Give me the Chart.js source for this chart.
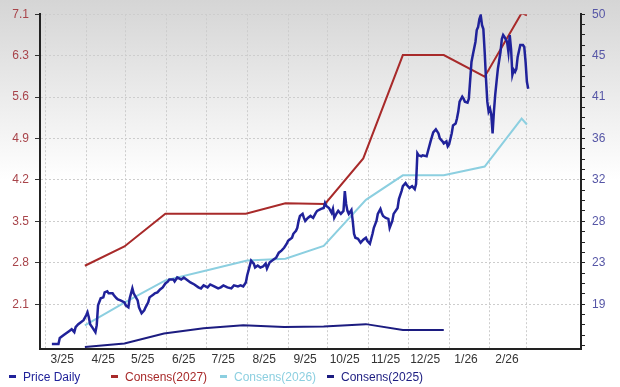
<!DOCTYPE html>
<html>
<head>
<meta charset="utf-8">
<script src="https://cdn.jsdelivr.net/npm/chart.js@4.4.1/dist/chart.umd.min.js"></script>
<style>
  html, body { margin: 0; padding: 0; background: #fff; }
  #wrap { position: relative; width: 620px; height: 387px; }
  #legenda { position: absolute; left: 0; top: 370px; width: 620px; height: 16px;
             font: 12px "Liberation Sans", Arial, sans-serif; }
  #legenda span { position: absolute; top: 0; white-space: nowrap; }
  #legenda i { display: inline-block; width: 7px; height: 3px; vertical-align: middle; margin: 0 7px 2px 0; }
</style>
</head>
<body>
<div id="wrap">
  <canvas id="grafico" width="620" height="387"></canvas>
  <div id="legenda"></div>
</div>
<script>
// eixo x: dias contados a partir de 2025-03-01
const mesesDias = [0, 31, 61, 92, 122, 153, 184, 214, 245, 275, 306, 337, 365];
const mesesLabels = ['3/25', '4/25', '5/25', '6/25', '7/25', '8/25', '9/25', '10/25', '11/25', '12/25', '1/26', '2/26', ''];

// eixo esquerdo (consenso EPS) e eixo direito (preco)
const ticksEsq = [2.13, 2.84, 3.55, 4.26, 4.97, 5.68, 6.39, 7.1];
const ticksEsqLabels = ['2.1', '2.8', '3.5', '4.2', '4.9', '5.6', '6.3', '7.1'];
const ticksDir = [18.99, 23.42, 27.85, 32.28, 36.71, 41.14, 45.57, 50];
const ticksDirLabels = ['19', '23', '28', '32', '36', '41', '45', '50'];

// Price Daily
const precoDias = [
  5, 10, 11, 14, 18, 20, 22, 23, 25, 27, 29, 31, 32, 33, 34, 36, 38, 39, 40, 42,
  44, 45, 47, 48, 51, 52, 54, 55, 57, 60, 61, 63, 64, 66, 67, 70, 71, 73, 75, 76,
  78, 79, 82, 83, 85, 87, 89, 91, 93, 94, 97, 98, 100, 103, 105, 108, 110, 113, 116, 118,
  120, 123, 125, 128, 131, 133, 135, 138, 141, 143, 146, 148, 150, 152, 153, 155, 156, 158, 159, 161,
  163, 165, 167, 168, 170, 172, 173, 175, 177, 179, 181, 183, 184, 187, 188, 190, 191, 192, 193, 195,
  196, 197, 199, 201, 203, 205, 206, 209, 211, 212, 213, 215, 217, 218, 219, 221, 222, 224, 226, 227,
  228, 229, 230, 232, 233, 234, 235, 237, 239, 241, 243, 244, 246, 248, 249, 251, 252, 254, 255, 256,
  258, 260, 261, 263, 264, 267, 268, 270, 271, 273, 274, 276, 278, 280, 281, 282, 283, 285, 286, 289,
  290, 292, 294, 296, 298, 299, 301, 302, 304, 305, 306, 308, 309, 311, 312, 313, 314, 316, 317, 318,
  320, 321, 323, 324, 326, 327, 328, 329, 330, 331, 332, 333, 334, 335, 336, 337, 338, 339, 340, 341,
  342, 343, 345, 346, 347, 348, 350, 351, 352, 353, 354, 355, 356, 357, 358, 360, 362, 363, 364, 365,
  366
];
const precoValores = [
  14.73, 14.73, 15.37, 15.69, 16.11, 16.32, 16.0, 16.54, 16.85, 17.07, 17.28, 17.81, 18.13, 17.6, 16.85, 16.43, 16.0, 16.75, 18.87, 19.62,
  19.72, 20.25, 20.36, 20.15, 20.15, 19.94, 19.62, 19.51, 19.4, 19.19, 18.87, 18.66, 19.62, 20.68, 20.15, 19.4, 18.66, 18.02, 18.34, 18.66,
  19.19, 19.72, 20.04, 20.15, 20.25, 20.57, 20.79, 21.21, 21.42, 21.64, 21.64, 21.42, 21.85, 21.64, 21.85, 21.53, 21.32, 21.1, 20.79, 20.68,
  21.0, 20.79, 21.1, 20.89, 20.68, 20.79, 21.0, 20.79, 20.68, 21.0, 20.89, 21.0, 20.89, 21.32, 22.06, 23.12, 23.65, 23.33, 22.91, 23.12,
  22.91, 23.02, 23.33, 22.8, 23.44, 23.65, 23.76, 23.97, 24.5, 24.72, 25.03, 25.46, 25.78, 26.1, 26.52, 26.84, 27.16, 27.9, 28.43, 28.65,
  28.22, 27.9, 28.22, 28.43, 28.22, 28.75, 28.97, 29.18, 29.28, 29.82, 29.5, 29.28, 28.75, 29.18, 28.22, 28.75, 28.97, 28.65, 28.97, 31.09,
  29.71, 28.97, 28.65, 29.07, 27.9, 26.52, 26.1, 25.99, 25.57, 25.88, 26.1, 25.78, 25.46, 26.52, 27.16, 27.9, 28.65, 29.18, 28.75, 28.43,
  28.22, 28.12, 27.16, 27.9, 28.65, 29.28, 30.24, 31.09, 31.62, 31.94, 31.73, 31.41, 31.62, 31.3, 31.83, 35.13, 34.91, 34.81, 34.91, 34.81,
  35.34, 36.4, 37.36, 37.68, 37.25, 36.72, 36.4, 36.19, 36.4, 35.87, 36.08, 37.25, 38.1, 38.31, 38.85, 39.59, 40.65, 41.18, 40.97, 40.65,
  40.55, 40.97, 44.9, 45.64, 47.03, 48.3, 48.62, 49.47, 49.89, 48.83, 48.41, 45.96, 43.09, 40.65, 39.59, 39.91, 39.27, 37.25, 39.59, 41.39,
  42.78, 44.16, 45.96, 47.34, 47.77, 47.56, 47.03, 45.96, 47.77, 46.28, 43.52, 44.05, 43.84, 44.16, 45.43, 46.71, 46.71, 46.49, 44.9, 42.78,
  42.03
];

// Consens(2027)
const cons27Dias = [30, 60, 91, 152, 182, 212, 241, 271, 302, 333, 361, 365];
const cons27Valores = [2.79, 3.12, 3.68, 3.68, 3.86, 3.85, 4.63, 6.40, 6.40, 6.03, 7.12, 7.08];
// Consens(2026)
const cons26Dias = [30, 60, 91, 122, 153, 182, 211, 243, 271, 302, 333, 361, 365];
const cons26Valores = [1.77, 2.16, 2.54, 2.71, 2.88, 2.91, 3.13, 3.92, 4.34, 4.34, 4.49, 5.31, 5.21];
// Consens(2025)
const cons25Dias = [30, 60, 90, 120, 150, 181, 211, 243, 271, 302];
const cons25Valores = [1.40, 1.46, 1.63, 1.72, 1.77, 1.74, 1.75, 1.79, 1.69, 1.69];

const pontos = (dias, valores) => dias.map((d, i) => ({ x: d, y: valores[i] }));

const series = [
  { label: 'Price Daily', cor: '#20229a', dados: pontos(precoDias, precoValores), eixo: 'yDir', largura: 2.5 },
  { label: 'Consens(2027)', cor: '#a82a2a', dados: pontos(cons27Dias, cons27Valores), eixo: 'yEsq', largura: 2 },
  { label: 'Consens(2026)', cor: '#8ccfe0', dados: pontos(cons26Dias, cons26Valores), eixo: 'yEsq', largura: 2 },
  { label: 'Consens(2025)', cor: '#1c1c80', dados: pontos(cons25Dias, cons25Valores), eixo: 'yEsq', largura: 2 }
];

const fundo = {
  id: 'fundo',
  beforeDraw(chart) {
    const { ctx, width, height } = chart;
    const g = ctx.createLinearGradient(0, 0, 0, 180);
    g.addColorStop(0, '#d5d5d5');
    g.addColorStop(1, '#ffffff');
    ctx.save();
    ctx.fillStyle = g;
    ctx.fillRect(0, 0, width, height);
    ctx.restore();
  }
};

const fonte = { family: '"Liberation Sans", Arial, sans-serif', size: 12 };
const grade = '#cdcdcd';

new Chart(document.getElementById('grafico').getContext('2d'), {
  type: 'line',
  data: {
    datasets: series.map(s => ({
      label: s.label,
      data: s.dados,
      yAxisID: s.eixo,
      borderColor: s.cor,
      backgroundColor: s.cor,
      borderWidth: s.largura,
      pointRadius: 0,
      tension: 0,
      fill: false
    }))
  },
  options: {
    responsive: false,
    animation: false,
    layout: { padding: { top: 12, bottom: 18, left: 0, right: 0 } },
    plugins: { legend: { display: false }, tooltip: { enabled: false } },
    scales: {
      x: {
        type: 'linear',
        min: -4,
        max: 406,
        afterBuildTicks: axis => { axis.ticks = mesesDias.map(v => ({ value: v })); },
        afterFit: axis => { axis.height = 20; },
        ticks: {
          autoSkip: false, maxRotation: 0, padding: 3, labelOffset: 17,
          color: '#333', font: fonte,
          callback: (v, i) => mesesLabels[i]
        },
        grid: { color: grade, drawTicks: false },
        border: { color: '#222', width: 2, dash: [2, 2] }
      },
      yEsq: {
        type: 'linear',
        position: 'left',
        min: 1.364,
        max: 7.1,
        afterBuildTicks: axis => { axis.ticks = ticksEsq.map(v => ({ value: v })); },
        afterFit: axis => { axis.width = 40; },
        ticks: {
          autoSkip: false, padding: 6, color: '#a8444a', font: fonte,
          callback: (v, i) => ticksEsqLabels[i]
        },
        grid: { color: grade, tickColor: '#333', tickLength: 5, tickBorderDash: [] },
        border: { color: '#222', width: 2, dash: [2, 2] }
      },
      yDir: {
        type: 'linear',
        position: 'right',
        min: 14.2,
        max: 50,
        afterBuildTicks: axis => {
          const lista = [];
          const passo = (ticksDir[1] - ticksDir[0]) / 4;
          for (let k = 4; k >= 1; k--) {
            const v = ticksDir[0] - k * passo;
            if (v >= axis.min) lista.push({ value: v, txt: '' });
          }
          ticksDir.forEach((v, i) => {
            lista.push({ value: v, txt: ticksDirLabels[i] });
            if (i < ticksDir.length - 1) {
              for (let k = 1; k < 4; k++) lista.push({ value: v + k * (ticksDir[i + 1] - v) / 4, txt: '' });
            }
          });
          axis.ticks = lista;
        },
        afterFit: axis => { axis.width = 39; },
        ticks: {
          autoSkip: false, padding: 7, color: '#5656a6', font: fonte,
          callback: (v, i, t) => t[i].txt
        },
        grid: { drawOnChartArea: false, tickColor: '#222', tickLength: 4, tickBorderDash: [] },
        border: { color: '#222', width: 2 }
      }
    }
  },
  plugins: [fundo]
});

// legenda
const legenda = document.getElementById('legenda');
const posicoes = [9, 111, 220, 327];
series.forEach((s, i) => {
  const item = document.createElement('span');
  item.style.left = posicoes[i] + 'px';
  item.style.color = s.cor;
  item.innerHTML = '<i style="background:' + s.cor + '"></i>' + s.label;
  legenda.appendChild(item);
});
</script>
</body>
</html>
